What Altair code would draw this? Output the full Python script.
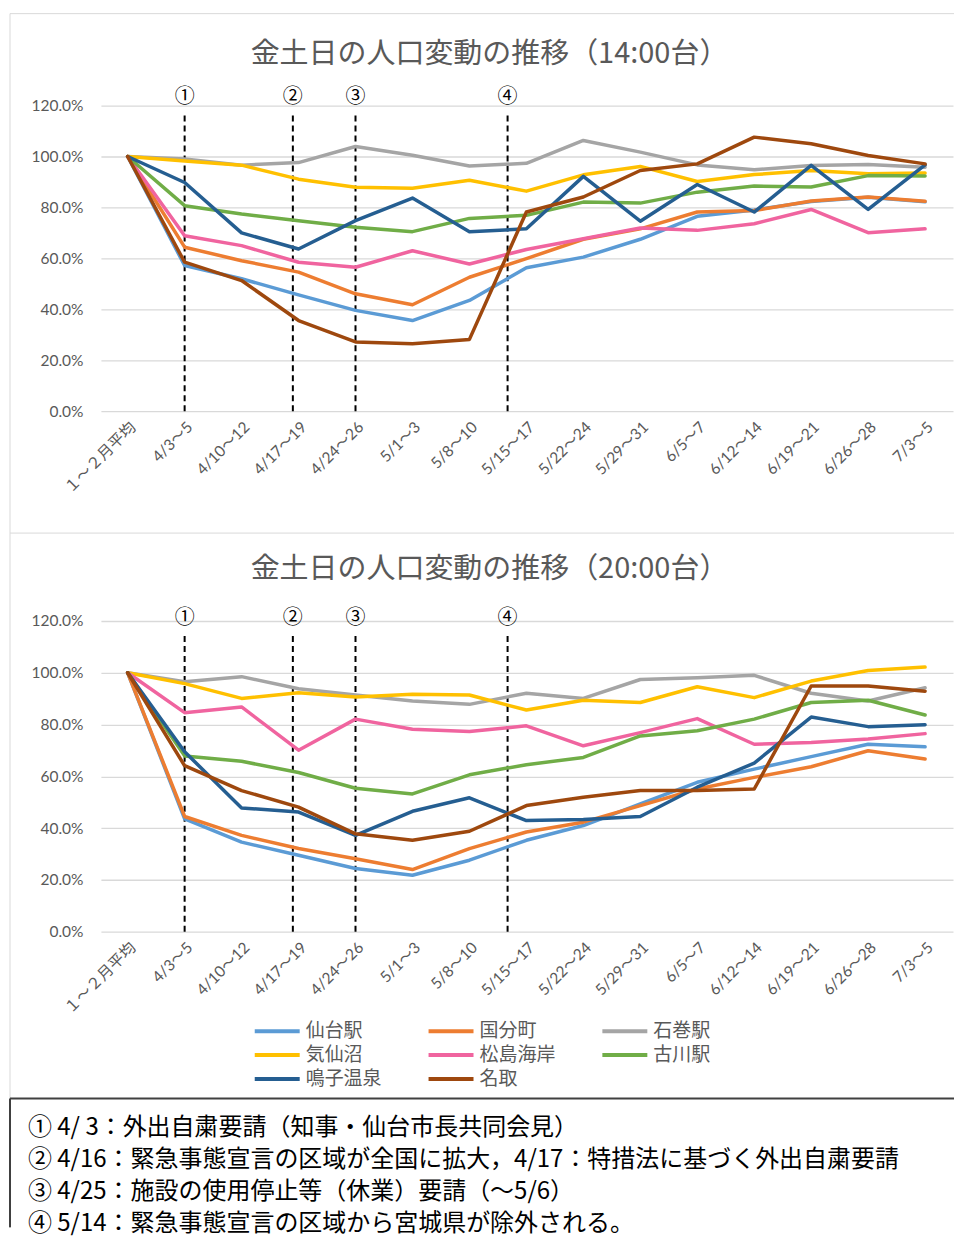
import json
import altair as alt
import pandas as pd

# ---------------- data ----------------
categories = ["１～２月平均", "4/3～5", "4/10～12", "4/17～19", "4/24～26", "5/1～3", "5/8～10",
              "5/15～17", "5/22～24", "5/29～31", "6/5～7", "6/12～14", "6/19～21", "6/26～28", "7/3～5"]
series = ["仙台駅", "国分町", "石巻駅", "気仙沼", "松島海岸", "古川駅", "鳴子温泉", "名取"]
colors = ["#5B9BD5", "#ED7D31", "#A5A5A5", "#FFC000", "#F0649F", "#70AD47", "#255E91", "#9E480E"]

# 14:00台 (%)
t14_sendai   = [100, 57.2, 52.0, 45.7, 39.6, 35.6, 43.5, 56.3, 60.5, 67.5, 76.5, 79.0, 82.3, 84.0, 82.2]
t14_kokubun  = [100, 64.4, 59.1, 54.6, 46.1, 41.8, 52.6, 59.9, 67.5, 71.6, 78.2, 78.8, 82.5, 84.1, 82.4]
t14_ishinomaki = [100, 99.0, 96.6, 97.6, 103.9, 100.5, 96.3, 97.3, 106.3, 101.7, 96.7, 94.8, 96.5, 96.9, 95.8]
t14_kesennuma = [100, 98.2, 96.6, 91.1, 87.9, 87.5, 90.7, 86.4, 92.8, 96.1, 90.2, 92.9, 94.5, 93.2, 93.5]
t14_matsushima = [100, 68.9, 65.0, 58.5, 56.5, 63.0, 57.8, 63.5, 67.7, 71.9, 71.0, 73.6, 79.2, 70.1, 71.6]
t14_furukawa = [100, 80.7, 77.4, 74.8, 72.2, 70.5, 75.7, 76.9, 82.1, 81.7, 86.0, 88.4, 88.0, 92.5, 92.3]
t14_naruko   = [100, 89.8, 70.0, 63.7, 74.8, 83.7, 70.5, 71.6, 92.2, 74.6, 89.0, 78.2, 96.5, 79.2, 96.7]
t14_natori   = [100, 58.5, 51.3, 35.6, 27.2, 26.5, 28.2, 78.2, 84.1, 94.5, 97.1, 107.6, 105.0, 100.4, 97.1]

# 20:00台 (%)
t20_sendai   = [100, 43.6, 34.6, 29.5, 24.4, 21.8, 27.6, 35.3, 41.0, 49.4, 57.7, 62.8, 67.6, 72.4, 71.4]
t20_kokubun  = [100, 44.5, 37.2, 32.1, 28.2, 24.0, 32.1, 38.5, 42.3, 48.7, 55.1, 59.6, 63.7, 69.9, 66.7]
t20_ishinomaki = [100, 96.5, 98.5, 93.8, 91.4, 89.1, 87.8, 92.1, 90.1, 97.4, 98.1, 99.0, 92.1, 89.1, 94.2]
t20_kesennuma = [100, 95.8, 90.1, 92.3, 90.6, 91.7, 91.4, 85.6, 89.4, 88.5, 94.6, 90.4, 96.8, 100.9, 102.2]
t20_matsushima = [100, 84.6, 86.8, 70.1, 82.1, 78.2, 77.3, 79.5, 71.8, 76.9, 82.3, 72.4, 73.1, 74.4, 76.5]
t20_furukawa = [100, 67.9, 65.8, 61.5, 55.4, 53.2, 60.6, 64.5, 67.3, 75.6, 77.6, 82.1, 88.5, 89.4, 83.7]
t20_naruko   = [100, 69.5, 47.8, 46.2, 37.2, 46.5, 51.7, 42.9, 43.3, 44.5, 55.8, 65.1, 82.9, 79.2, 79.9]
t20_natori   = [100, 64.1, 54.5, 48.1, 37.8, 35.3, 38.8, 48.7, 51.9, 54.5, 54.5, 55.1, 94.9, 94.9, 92.9]

# events (position on the category index axis)
event_labels = ["①", "②", "③", "④"]
event_pos = [1.0, 2.9, 4.0, 6.67]
event_notes = [
    "① 4/ 3：外出自粛要請（知事・仙台市長共同会見）",
    "② 4/16：緊急事態宣言の区域が全国に拡大，4/17：特措法に基づく外出自粛要請",
    "③ 4/25：施設の使用停止等（休業）要請（～5/6）",
    "④ 5/14：緊急事態宣言の区域から宮城県が除外される。",
]

titles = ["金土日の人口変動の推移（14:00台）", "金土日の人口変動の推移（20:00台）"]
y_ticks = [0, 20, 40, 60, 80, 100, 120]

# ---------------- build ----------------
JP = "Noto Sans CJK JP"
NUM = "Lato, 'Noto Sans CJK JP'"
GREY_TXT = "#595959"


def long_df(cols):
    rows = []
    for name, vals in zip(series, cols):
        for i, v in enumerate(vals):
            rows.append({"series": name, "idx": i, "value": v})
    return pd.DataFrame(rows)


df14 = long_df([t14_sendai, t14_kokubun, t14_ishinomaki, t14_kesennuma,
                t14_matsushima, t14_furukawa, t14_naruko, t14_natori])
df20 = long_df([t20_sendai, t20_kokubun, t20_ishinomaki, t20_kesennuma,
                t20_matsushima, t20_furukawa, t20_naruko, t20_natori])

label_expr = json.dumps(categories, ensure_ascii=False) + "[datum.value]"
one = pd.DataFrame({"k": [0]})


def panel(df, title, height, label_y, dash_top, legend, extra_layers):
    xs = alt.Scale(domain=[-0.47, 14.49], nice=False, zero=False)
    ys = alt.Scale(domain=[0, 120], nice=False, zero=True)
    x_enc = alt.X("idx:Q", scale=xs, title=None,
                  axis=alt.Axis(values=list(range(15)), labelExpr=label_expr, labelAngle=-45,
                                labelFont=NUM, labelFontSize=15.5, labelColor=GREY_TXT,
                                grid=False, ticks=False, domain=False, labelPadding=8,
                                labelOverlap=False))
    y_enc = alt.Y("value:Q", scale=ys, title=None,
                  axis=alt.Axis(values=y_ticks, labelExpr="format(datum.value, '.1f') + '%'",
                                labelFont=NUM, labelFontSize=15.5, labelColor=GREY_TXT,
                                grid=True, gridColor="#D9D9D9", gridWidth=1.3,
                                ticks=False, domain=False, labelPadding=18))
    lines = alt.Chart(df).mark_line(strokeWidth=3.5, strokeJoin="round", strokeCap="round").encode(
        x=x_enc, y=y_enc,
        color=alt.Color("series:N", scale=alt.Scale(domain=series, range=colors),
                        sort=series, legend=legend),
    )
    ev = pd.DataFrame({"idx": event_pos, "label": event_labels,
                       "value": [0] * 4, "value2": [dash_top] * 4, "ly": [label_y] * 4})
    rules = alt.Chart(ev).mark_rule(color="black", strokeWidth=2, strokeDash=[6, 4]).encode(
        x=alt.X("idx:Q", title=None), y=alt.Y("value:Q", title=None), y2="value2:Q")
    marks = alt.Chart(ev).mark_text(font=JP, fontSize=20, color="black").encode(
        x=alt.X("idx:Q", title=None), y=alt.Y("ly:Q", title=None), text="label:N")
    ttl = alt.Chart(one).mark_text(font=JP, fontSize=29, color=GREY_TXT, text=title).encode(
        x=alt.value(389), y=alt.value(-52))
    return alt.layer(*extra_layers, rules, lines, marks, ttl).properties(width=853, height=height)


def hrule(x1, x2, y, color, w):
    return alt.Chart(one).mark_rule(color=color, strokeWidth=w).encode(
        x=alt.value(x1), x2=alt.value(x2), y=alt.value(y))


def vrule(x, y1, y2, color, w):
    return alt.Chart(one).mark_rule(color=color, strokeWidth=w).encode(
        x=alt.value(x), y=alt.value(y1), y2=alt.value(y2))


FRAME = "#D9D9D9"
top_frames = [hrule(-91, 854, -92, FRAME, 1), vrule(-91, -92, 428, FRAME, 1),
              hrule(-91, 854, 428, FRAME, 1)]
top = panel(df14, titles[0], 306, 123.5, 117, None, top_frames)

legend = alt.Legend(orient="none", legendX=167, legendY=401, columns=3, direction="horizontal",
                    title=None, symbolType="M-4.5,0H4.5", symbolSize=100, symbolStrokeWidth=4,
                    labelFont=JP, labelFontSize=19, labelColor=GREY_TXT, labelOffset=19,
                    columnPadding=38, rowPadding=4, gridAlign="all", labelLimit=200)

notes = alt.Chart(one).mark_text(font=JP, fontSize=24, color="black", align="left",
                                 baseline="alphabetic", lineBreak="\n", lineHeight=32,
                                 text="\n".join(event_notes)).encode(
    x=alt.value(-73), y=alt.value(515))
bottom_frames = [vrule(-91, -88, 478, FRAME, 1), hrule(-91, 854, 478, "#404040", 2),
                 vrule(-91, 478, 607, "#404040", 2), notes]
bottom = panel(df20, titles[1], 311, 121, 115, legend, bottom_frames)

chart = alt.vconcat(top, bottom, spacing=210, bounds="flush").resolve_legend(
    color="independent").properties(
    padding={"left": 1, "top": 4, "right": 0, "bottom": 0}, background="white"
).configure_view(stroke=None)

chart.save("out.html", embed_options={"renderer": "svg", "actions": False})
